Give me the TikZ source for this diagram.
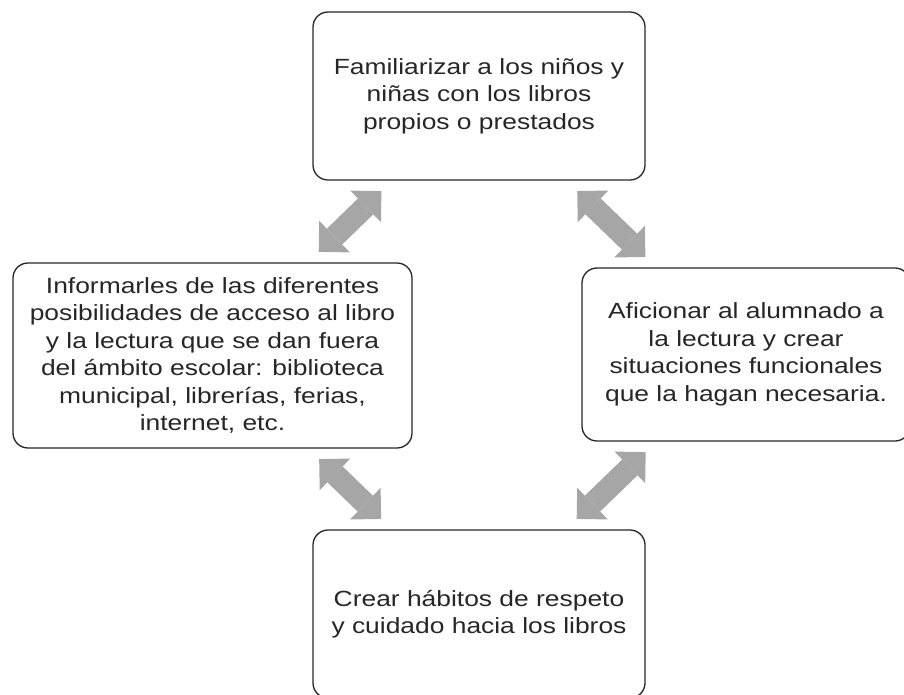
\documentclass[tikz,border=0pt]{standalone}
\usepackage{fontspec}
\setmainfont{Liberation Sans}[FakeStretch=1.2]
\usetikzlibrary{arrows.meta}
\definecolor{arrowgray}{HTML}{A6A6A6}
\definecolor{textgray}{HTML}{262626}

\begin{document}
\begin{tikzpicture}
                [
                x=1pt,y=-1pt,
                box/.style={rounded corners=15pt,draw=textgray,line width=1.3pt,align=center,
                  text=textgray,font=\fontsize{22}{27.5}\selectfont,inner sep=0pt},
                edge/.style={arrowgray,line width=22pt,shorten <=15pt,shorten >=15pt,
                  {Triangle[length=22pt,width=44pt,line width=0pt]}-{Triangle[length=22pt,width=44pt,line width=0pt]}}
                ]
            \useasboundingbox (0,0) rectangle (904,694);
            \node[box,minimum width=332pt,minimum height=168pt] (1) at (479,96)
                {Familiarizar a los niños y\\niñas con los libros\\propios o prestados};
            \node[box,minimum width=328pt,minimum height=173pt] (2) at (746,354.5)
                {Aficionar al alumnado a\\la lectura y crear\\situaciones funcionales\\que la hagan necesaria.};
            \node[box,minimum width=332pt,minimum height=168pt] (3) at (479,614)
                {Crear hábitos de respeto\\y cuidado hacia los libros};
            \node[box,minimum width=399pt,minimum height=185pt] (4) at (212.5,355.5)
                {Informarles de las diferentes\\posibilidades de acceso al libro\\y la lectura que se dan fuera\\del ámbito escolar: biblioteca\\municipal, librerías, ferias,\\internet, etc.};
            \draw[edge] (1) -- (4);
            \draw[edge] (1) -- (2);
            \draw[edge] (4) -- (3);
            \draw[edge] (2) -- (3);
            \end{tikzpicture}
\end{document}
